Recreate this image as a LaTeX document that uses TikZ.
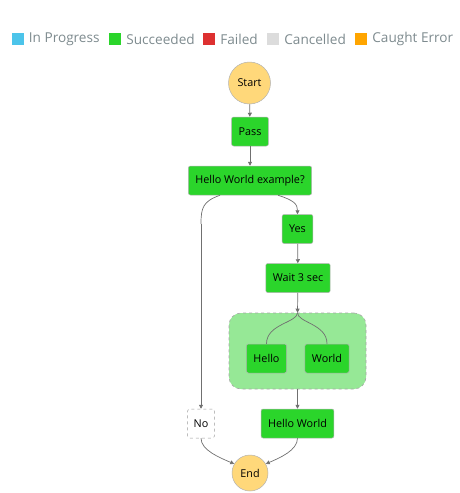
\documentclass[tikz,border=0pt]{standalone}
\usepackage{fontspec}
\setmainfont{Open Sans}
\usetikzlibrary{arrows.meta,positioning}
\definecolor{sfblue}{HTML}{4CC4EA}
\definecolor{sfgreen}{HTML}{2BD52B}
\definecolor{sfred}{HTML}{DD3030}
\definecolor{sfgray}{HTML}{DCDCDC}
\definecolor{sforange}{HTML}{FFA500}
\definecolor{sfstart}{HTML}{FFD87A}
\definecolor{sfpar}{HTML}{96E896}
\definecolor{sftext}{HTML}{7D8A8E}
\definecolor{sfline}{HTML}{707070}

\tikzset{
  keybox/.style={minimum size=12pt, inner sep=0pt},
  keytext/.style={font=\fontsize{13.6}{15}\selectfont, text=sftext, inner sep=0pt},
  state/.style={fill=sfgreen, draw=black!30, line width=0.5pt, rounded corners=2pt,
    minimum height=29pt, inner xsep=7pt, font=\fontsize{10.8}{12}\selectfont},
  skipped/.style={fill=white, draw=black!40, dashed, line width=0.5pt, rounded corners=2pt,
    minimum height=29pt, inner xsep=6pt, font=\fontsize{10.8}{12}\selectfont},
  terminal/.style={circle, fill=sfstart, draw=black!30, line width=0.5pt,
    inner sep=0pt, font=\fontsize{10.8}{12}\selectfont},
  flow/.style={draw=sfline, line width=0.7pt, -{Triangle[length=4pt,width=4pt]}},
  branch/.style={draw=sfline, line width=0.7pt}
}

\begin{document}
\begin{tikzpicture}[x=1pt, y=-1pt]

  \useasboundingbox (0,0) rectangle (460,493);

  % ---- Legend ----
  \node[keybox, fill=sfblue] (kProg) at (17.5,39) {};
  \node[keytext, right=5pt of kProg] (tProg) {In Progress};
  \node[keybox, fill=sfgreen] (kSucc) at (115,39) {};
  \node[keytext, right=5pt of kSucc] (tSucc) {Succeeded};
  \node[keybox, fill=sfred] (kFail) at (209,39) {};
  \node[keytext, right=5pt of kFail] (tFail) {Failed};
  \node[keybox, fill=sfgray] (kCanc) at (273,39) {};
  \node[keytext, right=5pt of kCanc] (tCanc) {Cancelled};
  \node[keybox, fill=sforange] (kErr) at (361,39) {};
  \node[keytext, right=5pt of kErr] (tErr) {Caught Error};

  % ---- Parallel block (behind its branches) ----
  \node[fill=sfpar, draw=black!35, dashed, line width=0.6pt, rounded corners=12pt,
    minimum width=137pt, minimum height=76pt] (par) at (297.5,351) {};

  % ============ STATES ============
  \node[terminal, minimum size=42pt] (start) at (249.5,83) {Start};
  \node[state] (pass) at (250,131.5) {Pass};
  \node[state] (choice) at (250,180.5) {Hello World example?};
  \node[state] (yes) at (297.5,229) {Yes};
  \node[state] (wait) at (298,278) {Wait 3 sec};
  \node[state] (hello) at (266.5,358.5) {Hello};
  \node[state] (world) at (327,358.5) {World};
  \node[state] (hworld) at (297.5,423.5) {Hello World};
  \node[skipped] (no) at (201,423.5) {No};
  \node[terminal, minimum size=36pt] (end) at (250,473) {End};

  % ============ TRANSITIONS ============
  \draw[flow] (start) -- (pass);
  \draw[flow] (pass) -- (choice);
  \draw[flow] ([xshift=28pt]choice.south) .. controls +(16,5) and +(0,-10) .. (yes.north);
  \draw[branch] ([xshift=-30pt]choice.south) .. controls +(-17,6) and +(0,-16)
    .. ([yshift=185pt]no.north);
  \draw[flow] ([yshift=185pt]no.north) -- (no.north);
  \draw[flow] (yes) -- (wait);
  \draw[flow] (wait) -- (par.north);

  % Parallel branches
  \draw[branch] (par.north) .. controls +(0,10) and +(0,-20) .. (hello.north);
  \draw[branch] (par.north) .. controls +(0,10) and +(0,-20) .. (world.north);

  \draw[flow] (par.south) -- (hworld.north);
  \draw[flow] (no.south) .. controls +(0,12) and +(-14,-6) .. (end.150);
  \draw[flow] (hworld.south) .. controls +(0,12) and +(14,-6) .. (end.30);

\end{tikzpicture}
\end{document}
